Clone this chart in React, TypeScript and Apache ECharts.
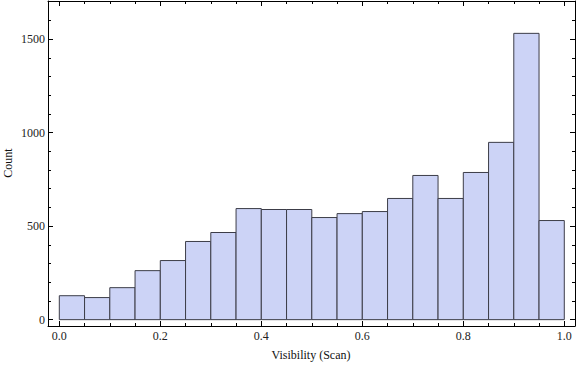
import React, { useEffect, useRef } from "react";
import * as echarts from "echarts";

const binEdges = [0, 0.05, 0.1, 0.15, 0.2, 0.25, 0.3, 0.35, 0.4, 0.45, 0.5, 0.55, 0.6, 0.65, 0.7, 0.75, 0.8, 0.85, 0.9, 0.95, 1.0];
const counts = [128, 118, 171, 262, 316, 418, 466, 594, 589, 589, 546, 567, 578, 648, 771, 648, 787, 948, 1531, 530];
const xMajorTicks = [0, 0.2, 0.4, 0.6, 0.8, 1.0];
const xMinorTicks = [0.05, 0.1, 0.15, 0.25, 0.3, 0.35, 0.45, 0.5, 0.55, 0.65, 0.7, 0.75, 0.85, 0.9, 0.95];
const yMajorTicks = [0, 500, 1000, 1500];
const yMinorTicks = [100, 200, 300, 400, 600, 700, 800, 900, 1100, 1200, 1300, 1400, 1600, 1700];
const xLabel = "Visibility (Scan)";
const yLabel = "Count";

const X_MIN = -0.0224;
const X_MAX = 1.0212;
const Y_MIN = -34;
const Y_MAX = 1704;

const FONT = "'Liberation Serif', 'Times New Roman', serif";

export default function App() {
  const ref = useRef<HTMLDivElement>(null);
  useEffect(() => {
    if (!ref.current) return;
    const chart = echarts.init(ref.current, undefined, { renderer: "svg" });
    const data = counts.map((c, i) => [binEdges[i], binEdges[i + 1], c]);

    const xAx = (pos: "bottom" | "top", ticks: number[], len: number, labels: boolean, line: boolean) => ({
      type: "value",
      position: pos,
      min: X_MIN,
      max: X_MAX,
      axisLine: { show: line, onZero: false, lineStyle: { color: "#000", width: 1 } },
      axisTick: { show: true, inside: true, length: len, customValues: ticks, lineStyle: { color: "#000", width: 1 } },
      axisLabel: labels
        ? { show: true, customValues: ticks, formatter: (v: number) => v.toFixed(1), color: "#222", fontFamily: FONT, fontSize: 12, margin: 4 }
        : { show: false },
      splitLine: { show: false },
    });
    const yAx = (pos: "left" | "right", ticks: number[], len: number, labels: boolean, line: boolean) => ({
      type: "value",
      position: pos,
      min: Y_MIN,
      max: Y_MAX,
      axisLine: { show: line, onZero: false, lineStyle: { color: "#000", width: 1 } },
      axisTick: { show: true, inside: true, length: len, customValues: ticks, lineStyle: { color: "#000", width: 1 } },
      axisLabel: labels
        ? { show: true, customValues: ticks, formatter: (v: number) => String(v), color: "#222", fontFamily: FONT, fontSize: 12, margin: 3 }
        : { show: false },
      splitLine: { show: false },
    });

    chart.setOption({
      animation: false,
      grid: { left: 48, right: 1, top: 1, bottom: 40, show: false },
      xAxis: [
        xAx("bottom", xMajorTicks, 5, true, true),
        xAx("bottom", xMinorTicks, 3, false, false),
        xAx("top", xMajorTicks, 5, false, true),
        xAx("top", xMinorTicks, 3, false, false),
      ],
      yAxis: [
        yAx("left", yMajorTicks, 5, true, true),
        yAx("left", yMinorTicks, 3, false, false),
        yAx("right", yMajorTicks, 5, false, true),
        yAx("right", yMinorTicks, 3, false, false),
      ],
      series: [
        {
          type: "custom",
          xAxisIndex: 0,
          yAxisIndex: 0,
          encode: { x: [0, 1], y: 2 },
          data,
          renderItem: (params: any, api: any) => {
            const p0 = api.coord([api.value(0), 0]);
            const p1 = api.coord([api.value(1), api.value(2)]);
            return {
              type: "rect",
              shape: { x: p0[0], y: p1[1], width: p1[0] - p0[0], height: p0[1] - p1[1] },
              style: { fill: "rgb(204,211,246)", stroke: "#3c3d48", lineWidth: 1 },
            };
          },
        },
      ],
      graphic: [
        {
          type: "text",
          x: 311,
          y: 355,
          style: { text: xLabel, font: `12px ${FONT}`, fill: "#111", align: "center", verticalAlign: "middle" },
        },
        {
          type: "text",
          x: 8,
          y: 163,
          rotation: Math.PI / 2,
          style: { text: yLabel, font: `12px ${FONT}`, fill: "#111", align: "center", verticalAlign: "middle" },
        },
      ],
    });
    return () => chart.dispose();
  }, []);
  return <div ref={ref} style={{ position: "fixed", left: 0, top: 0, width: 576, height: 366, background: "#fff" }} />;
}
